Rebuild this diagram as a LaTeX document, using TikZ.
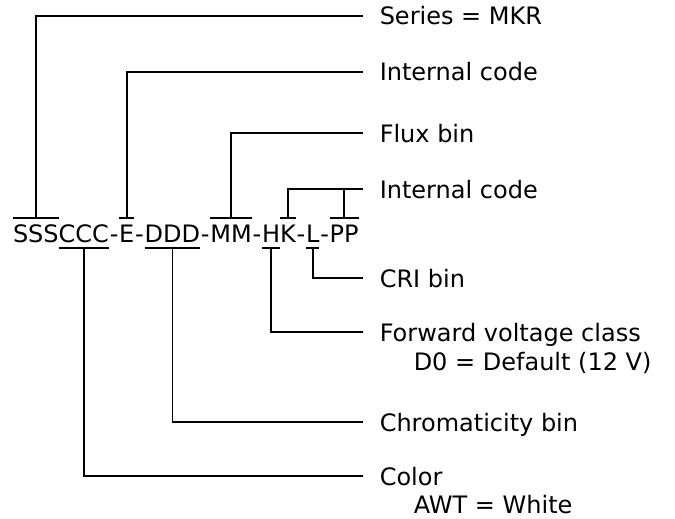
\documentclass[tikz,border=0pt]{standalone}
\usepackage{fontspec}
\setmainfont{DejaVu Sans}
\usetikzlibrary{positioning}

\begin{document}
\begin{tikzpicture}[x=1pt, y=-1pt, line width=1.5pt,
 font=\fontsize{24}{29}\selectfont,
 seg/.style={inner sep=0pt, outer sep=0pt},
 hy/.style={inner ysep=0pt, inner xsep=.8pt, outer sep=0pt},
 lbl/.style={anchor=west, inner sep=0pt, text height=18pt, text depth=0pt},
 lblsub/.style={anchor=base west, inner sep=0pt}]
\useasboundingbox (0,0) rectangle (675,519);
% part number, one node per field
\node[seg, anchor=base west] (sss) at (13,242) {SSS};
\node[seg, base right=0pt of sss] (ccc) {CCC};
\node[hy, base right=0pt of ccc] (d1) {-};
\node[seg, base right=0pt of d1] (e) {E};
\node[hy, base right=0pt of e] (d2) {-};
\node[seg, base right=0pt of d2] (ddd) {DDD};
\node[hy, base right=0pt of ddd] (d3) {-};
\node[seg, base right=0pt of d3] (mm) {MM};
\node[hy, base right=0pt of mm] (d4) {-};
\node[seg, base right=0pt of d4] (h) {H};
\node[seg, base right=0pt of h] (k) {K};
\node[hy, base right=0pt of k] (d5) {-};
\node[seg, base right=0pt of d5] (l) {L};
\node[hy, base right=0pt of l] (d6) {-};
\node[seg, base right=0pt of d6] (pp) {PP};
% bars over / under the fields
\draw ([yshift=24pt]sss.base west) -- ([yshift=24pt]sss.base east);
\draw ([yshift=24pt]e.base west) -- ([yshift=24pt]e.base east);
\draw ([yshift=24pt]mm.base west) -- ([yshift=24pt]mm.base east);
\draw ([yshift=24pt]k.base west) -- ([yshift=24pt]k.base east);
\draw ([yshift=24pt]pp.base west) -- ([yshift=24pt]pp.base east);
\draw ([yshift=-6pt]ccc.base west) -- ([yshift=-6pt]ccc.base east);
\draw ([yshift=-6pt]ddd.base west) -- ([yshift=-6pt]ddd.base east);
\draw ([yshift=-6pt]h.base west) -- ([yshift=-6pt]h.base east);
\draw ([yshift=-6pt]l.base west) -- ([yshift=-6pt]l.base east);
% labels
\node[lbl] (series) at (379,16) {Series = MKR};
\node[lbl] (int1) at (379,72) {Internal code};
\node[lbl] (flux) at (379,133) {Flux bin};
\node[lbl] (int2) at (379,189) {Internal code};
\node[lbl] (cri) at (379,278) {CRI bin};
\node[lbl] (fwd) at (379,332) {Forward voltage class};
\node[lblsub] (fwdval) at ([xshift=34pt,yshift=-29pt]fwd.base west) {D0 = Default (12 V)};
\node[lbl] (chrom) at (379,422) {Chromaticity bin};
\node[lbl] (color) at (379,476) {Color};
\node[lblsub] (colorval) at ([xshift=34pt,yshift=-28pt]color.base west) {AWT = White};
% leaders
\draw ([yshift=24pt]sss.base) |- ([xshift=-16pt]series.west);
\draw ([yshift=24pt]e.base) |- ([xshift=-16pt]int1.west);
\draw ([yshift=24pt]mm.base) |- ([xshift=-16pt]flux.west);
\draw ([yshift=24pt]k.base) |- ([xshift=-16pt]int2.west);
\draw ([yshift=24pt]pp.base) -- (pp.base |- int2.west);
\draw ([yshift=-6pt]l.base) |- ([xshift=-16pt]cri.west);
\draw ([yshift=-6pt]h.base) |- ([xshift=-16pt]fwd.west);
\draw ([yshift=-6pt]ddd.base) |- ([xshift=-16pt]chrom.west);
\draw ([yshift=-6pt]ccc.base) |- ([xshift=-16pt]color.west);
\end{tikzpicture}
\end{document}
